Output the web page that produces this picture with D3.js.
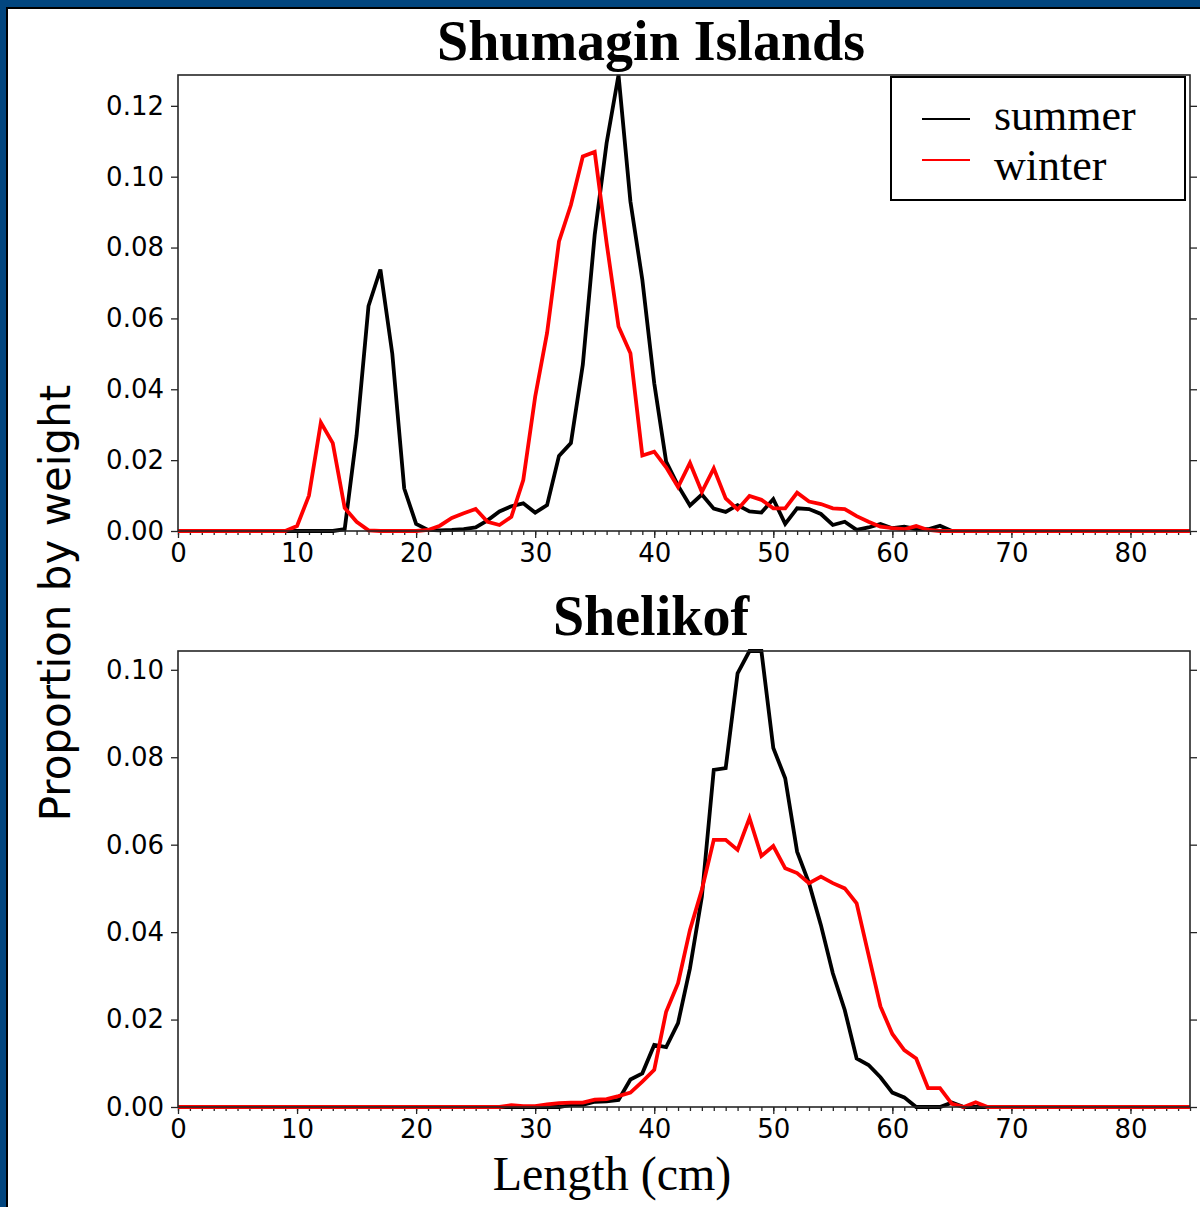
<!DOCTYPE html>
<html>
<head>
<meta charset="utf-8">
<script src="https://cdn.jsdelivr.net/npm/d3@7"></script>
<style>
  html, body { margin: 0; padding: 0; background: #fff; }
  svg { display: block; }
</style>
</head>
<body>
<script>
// ---------------- DATA ----------------
const lengths = d3.range(0, 86); // length classes (cm)
const seriesNames = ["summer", "winter"];
const seriesColors = ["#000000", "#ff0000"];
const xTicks = [0, 10, 20, 30, 40, 50, 60, 70, 80];
const shumaginYTicks = [0, 0.02, 0.04, 0.06, 0.08, 0.10, 0.12];
const shelikofYTicks = [0, 0.02, 0.04, 0.06, 0.08, 0.10];

const shumaginSummer = [
  0,0,0,0,0,0,0,0,0,0,
  0,0,0,0,0.0005,0.027,0.0635,0.0738,0.050,0.012,
  0.002,0.0003,0.0002,0.0003,0.0005,0.001,0.003,0.0055,0.007,0.0078,
  0.0052,0.0073,0.0212,0.0248,0.0469,0.0836,0.1095,0.1287,0.093,0.0709,
  0.0417,0.0196,0.0128,0.0072,0.0103,0.0063,0.0054,0.0073,0.0055,0.0052,
  0.009,0.002,0.0064,0.0062,0.0048,0.0017,0.0026,0.0003,0.001,0.002,
  0.0008,0.0012,0.0005,0.0005,0.0015,0,0,0,0,0,
  0,0,0,0,0,0,0,0,0,0,
  0,0,0,0,0,0
];
const shumaginWinter = [
  0,0,0,0,0,0,0,0,0,0,
  0.0014,0.010,0.0306,0.0248,0.0065,0.0026,0.0002,0,0,0,
  0,0.0003,0.0015,0.0037,0.005,0.0062,0.0026,0.0017,0.004,0.0144,
  0.0379,0.0559,0.0817,0.092,0.1057,0.107,0.0813,0.0577,0.0502,0.0213,
  0.0224,0.018,0.0124,0.0192,0.011,0.0177,0.0092,0.0061,0.0099,0.0088,
  0.0064,0.0064,0.0108,0.0083,0.0076,0.0064,0.0062,0.0042,0.0026,0.0012,
  0.0008,0.0005,0.0014,0.0003,0,0,0,0,0,0,
  0,0,0,0,0,0,0,0,0,0,
  0,0,0,0,0,0
];
const shelikofSummer = [
  0,0,0,0,0,0,0,0,0,0,
  0,0,0,0,0,0,0,0,0,0,
  0,0,0,0,0,0,0,0,0,0,
  0,0,0,0.0005,0.0005,0.0012,0.0013,0.0016,0.0063,0.0077,
  0.0142,0.0137,0.0192,0.0317,0.0481,0.0771,0.0775,0.0992,0.1043,0.1043,
  0.0821,0.0752,0.0584,0.0512,0.0416,0.0306,0.0222,0.0111,0.0096,0.0068,
  0.0033,0.0022,0,0,0,0.001,0,0,0,0,
  0,0,0,0,0,0,0,0,0,0,
  0,0,0,0,0,0
];
const shelikofWinter = [
  0,0,0,0,0,0,0,0,0,0,
  0,0,0,0,0,0,0,0,0,0,
  0,0,0,0,0,0,0,0,0.0004,0.0002,
  0.0002,0.0006,0.0009,0.001,0.001,0.0017,0.0018,0.0025,0.0033,0.0058,
  0.0085,0.0218,0.0283,0.0405,0.0497,0.0611,0.0611,0.0588,0.0661,0.0574,
  0.0597,0.0546,0.0535,0.0512,0.0527,0.0512,0.05,0.0466,0.0348,0.023,
  0.0167,0.013,0.0111,0.0043,0.0043,0.0007,0,0.0011,0,0,
  0,0,0,0,0,0,0,0,0,0,
  0,0,0,0,0,0
];

// ---------------- DRAW ----------------
const W = 1200, H = 1207;
const svg = d3.select("body").append("svg").attr("width", W).attr("height", H);

// page frame (blue border left & top)
svg.append("rect").attr("x", 0).attr("y", 0).attr("width", W).attr("height", H).attr("fill", "#fff");
svg.append("rect").attr("x", 0).attr("y", 0).attr("width", 7).attr("height", H).attr("fill", "#02467f");
svg.append("rect").attr("x", 0).attr("y", 0).attr("width", W).attr("height", 7).attr("fill", "#02467f");
svg.append("rect").attr("x", 6).attr("y", 7).attr("width", 2).attr("height", H - 7).attr("fill", "#000");
svg.append("rect").attr("x", 6).attr("y", 7).attr("width", W - 6).attr("height", 2).attr("fill", "#000");

const tickFont = "'DejaVu Sans', sans-serif";
const serifFont = "'Liberation Serif', 'Times New Roman', serif";
const spineColor = "#262626";

function panel(cfg) {
  const x = d3.scaleLinear().domain([0, 85]).range([cfg.left, cfg.right]);
  const yMax = d3.max(cfg.series.flat());
  const y = d3.scaleLinear().domain([0, yMax]).range([cfg.bottom, cfg.top]);
  const g = svg.append("g");

  // minor x ticks
  const minor = g.append("g").attr("transform", `translate(0,${cfg.bottom})`)
    .call(d3.axisBottom(x).tickValues(lengths).tickSize(4).tickFormat(""));
  // major x ticks
  const xa = g.append("g").attr("transform", `translate(0,${cfg.bottom})`)
    .call(d3.axisBottom(x).tickValues(xTicks).tickSize(7).tickPadding(6).tickFormat(d3.format("d")));
  // left y ticks
  const ya = g.append("g").attr("transform", `translate(${cfg.left},0)`)
    .call(d3.axisLeft(y).tickValues(cfg.yTicks).tickSize(7).tickPadding(7).tickFormat(d3.format(".2f")));
  // right y ticks
  const yr = g.append("g").attr("transform", `translate(${cfg.right},0)`)
    .call(d3.axisRight(y).tickValues(cfg.yTicks).tickSize(7).tickFormat(""));

  [minor, xa, ya, yr].forEach(a => {
    a.select(".domain").remove();
    a.selectAll("line").attr("stroke", spineColor).attr("stroke-width", 1.3);
    a.selectAll("text").attr("font-family", tickFont).attr("font-size", 26).attr("fill", "#000");
  });

  // lines
  const line = d3.line().x((d, i) => x(lengths[i])).y(d => y(d));
  cfg.series.forEach((s, k) => {
    g.append("path").datum(s).attr("d", line)
      .attr("fill", "none").attr("stroke", seriesColors[k])
      .attr("stroke-width", 3.8).attr("stroke-linejoin", "miter");
  });

  // spines
  g.append("rect").attr("x", cfg.left).attr("y", cfg.top)
    .attr("width", cfg.right - cfg.left).attr("height", cfg.bottom - cfg.top)
    .attr("fill", "none").attr("stroke", spineColor).attr("stroke-width", 1.6);

  // title
  svg.append("text").attr("x", (cfg.left + cfg.right) / 2 - 33).attr("y", cfg.titleY)
    .attr("text-anchor", "middle").attr("font-family", serifFont)
    .attr("font-weight", "bold").attr("font-size", 56).attr("fill", "#000")
    .text(cfg.title);

  return { x, y };
}

panel({
  left: 178, right: 1190, top: 75, bottom: 531,
  series: [shumaginSummer, shumaginWinter],
  yTicks: shumaginYTicks, title: "Shumagin Islands", titleY: 60
});
panel({
  left: 178, right: 1190, top: 651, bottom: 1107,
  series: [shelikofSummer, shelikofWinter],
  yTicks: shelikofYTicks, title: "Shelikof", titleY: 635
});

// legend (top panel)
const lg = svg.append("g");
lg.append("rect").attr("x", 891).attr("y", 77).attr("width", 294).attr("height", 123)
  .attr("fill", "#fff").attr("stroke", "#000").attr("stroke-width", 2);
seriesNames.forEach((name, i) => {
  const cy = 119 + i * 41;
  lg.append("line").attr("x1", 922).attr("x2", 970).attr("y1", cy).attr("y2", cy)
    .attr("stroke", seriesColors[i]).attr("stroke-width", 2.2);
  lg.append("text").attr("x", 994).attr("y", 130 + i * 50)
    .attr("font-family", serifFont).attr("font-size", 44).attr("fill", "#000").text(name);
});

// axis labels
svg.append("text").attr("transform", "translate(70,603) rotate(-90)")
  .attr("text-anchor", "middle").attr("font-family", tickFont).attr("font-size", 42)
  .attr("fill", "#000").text("Proportion by weight");
svg.append("text").attr("x", 612).attr("y", 1190)
  .attr("text-anchor", "middle").attr("font-family", serifFont).attr("font-size", 48)
  .attr("fill", "#000").text("Length (cm)");
</script>
</body>
</html>
